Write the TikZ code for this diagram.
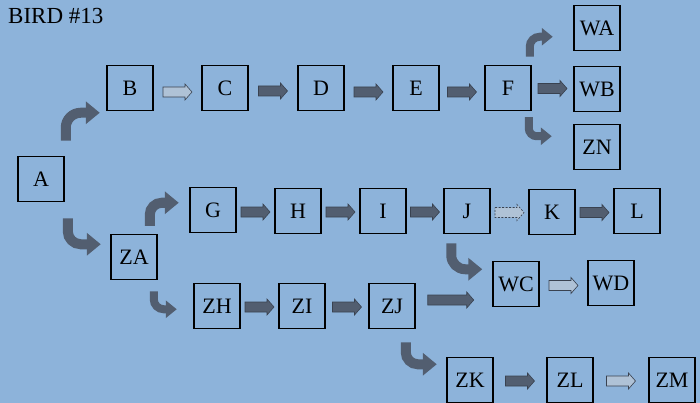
\documentclass[tikz,border=0pt]{standalone}
\usepackage{fontspec}
\setmainfont{Liberation Serif}
\usetikzlibrary{calc,arrows.meta}
\definecolor{sky}{HTML}{8DB3DA}
\definecolor{arrfill}{HTML}{525E70}
\definecolor{arredge}{HTML}{394250}
\definecolor{arrpale}{HTML}{AFC2D6}
\tikzset{
  box/.style={draw=black, line width=1.5pt, minimum width=46pt, minimum height=45pt,
    inner sep=0pt, font=\fontsize{22}{24}\selectfont},
  flat/.style={fill=arrfill, draw=arredge, line width=0.6pt},
  pale/.style={fill=arrpale, draw=arredge, line width=0.6pt},
  paledash/.style={fill=arrpale, draw=arredge, line width=0.6pt, dash pattern=on 2pt off 1.5pt},
  turnarrow/.style={draw=arrfill, line width=10pt, -{Triangle[length=14pt,width=22pt]}},
  smallturn/.style={draw=arrfill, line width=8pt, -{Triangle[length=11pt,width=17pt]}},
}
% horizontal block arrow between two coordinates s and e (same height)
\newcommand\barrow[3][flat]{%
  \draw[#1] ($(#2)+(0,5)$) -- ($(#3)+(-7,5)$) -- ($(#3)+(-7,8)$) -- (#3)
    -- ($(#3)+(-7,-8)$) -- ($(#3)+(-7,-5)$) -- ($(#2)+(0,-5)$) -- cycle;}
% block arrow of length 29 centred in the gap between two nodes, shifted by dy
\newcommand\gaparrow[4][flat]{%
  \coordinate (m) at ($(#2.east)!0.5!(#3.west)+(0,#4)$);
  \coordinate (ms) at ($(m)+(-14.5,0)$);
  \coordinate (me) at ($(m)+(14.5,0)$);
  \barrow[#1]{ms}{me}}
\begin{document}
\begin{tikzpicture}[x=1pt,y=1pt]
  \fill[sky] (0,0) rectangle (700,-403);
  \useasboundingbox (0,0) rectangle (700,-403);

  \node[anchor=base west, font=\fontsize{23}{25}\selectfont, inner sep=0pt] (title) at (8,-24) {BIRD \#13};

  % boxes
  \node[box] (A) at (41,-179) {A};
  \node[box] (B) at (130,-88) {B};
  \node[box] (C) at (225,-88) {C};
  \node[box] (D) at (321,-88) {D};
  \node[box] (E) at (416,-88) {E};
  \node[box] (F) at (508,-88) {F};
  \node[box] (WA) at (597,-28) {WA};
  \node[box] (WB) at (597,-89) {WB};
  \node[box] (ZN) at (597,-147) {ZN};
  \node[box] (ZA) at (134,-257) {ZA};
  \node[box] (G) at (213,-210) {G};
  \node[box] (H) at (298,-211) {H};
  \node[box] (I) at (383,-211) {I};
  \node[box] (J) at (467,-211) {J};
  \node[box] (K) at (552,-212) {K};
  \node[box] (L) at (637,-211) {L};
  \node[box] (WC) at (516,-284) {WC};
  \node[box] (WD) at (611,-283) {WD};
  \node[box] (ZH) at (217,-306) {ZH};
  \node[box] (ZI) at (302,-306) {ZI};
  \node[box] (ZJ) at (392,-306) {ZJ};
  \node[box] (ZK) at (470,-380) {ZK};
  \node[box] (ZL) at (570,-380) {ZL};
  \node[box] (ZM) at (672,-380) {ZM};

  % straight block arrows
  \gaparrow[pale]{B}{C}{-4}
  \gaparrow{C}{D}{-3}
  \gaparrow{D}{E}{-4}
  \gaparrow{E}{F}{-4}
  \gaparrow{F}{WB}{0}
  \gaparrow{G}{H}{-1.5}
  \gaparrow{H}{I}{-1}
  \gaparrow{I}{J}{-1}
  \gaparrow[paledash]{J}{K}{-1}
  \gaparrow{K}{L}{-1}
  \gaparrow[pale]{WC}{WD}{-2}
  \gaparrow{ZH}{ZI}{-1}
  \gaparrow{ZI}{ZJ}{-1}
  \gaparrow{ZK}{ZL}{-1}
  \gaparrow[pale]{ZL}{ZM}{-1}
  \coordinate (zjs) at ($(ZJ.east)+(12,6)$);
  \coordinate (zje) at ($(ZJ.east)+(58,6)$);
  \barrow{zjs}{zje}

  % bent block arrows
  \draw[turnarrow] ($(A.north east)+(1,15)$) -- ++(0,13) arc[start angle=180,end angle=90,radius=15] -- ++(19,0);
  \draw[turnarrow] ($(A.south east)+(3,-16)$) -- ++(0,-13) arc[start angle=180,end angle=270,radius=13] -- ++(20,0);
  \draw[turnarrow] ($(ZA.north east)+(-8,8)$) -- ++(0,11) arc[start angle=180,end angle=90,radius=12] -- ++(17,0);
  \draw[smallturn] ($(ZA.south east)+(-4,-11)$) -- ++(0,-8) arc[start angle=180,end angle=270,radius=10] -- ++(13,0);
  \draw[smallturn] ($(F.north east)+(-2,8)$) -- ++(0,10) arc[start angle=180,end angle=90,radius=10] -- ++(13,0);
  \draw[smallturn] ($(F.south east)+(-3,-6)$) -- ++(0,-11) arc[start angle=180,end angle=270,radius=8] -- ++(15,0);
  \draw[turnarrow] ($(J.south west)+(8,-9)$) -- ++(0,-12) arc[start angle=180,end angle=270,radius=14] -- ++(17,0);
  \draw[turnarrow] ($(ZJ.south east)+(-10,-13)$) -- ++(0,-10) arc[start angle=180,end angle=270,radius=12] -- ++(19,0);
\end{tikzpicture}
\end{document}
